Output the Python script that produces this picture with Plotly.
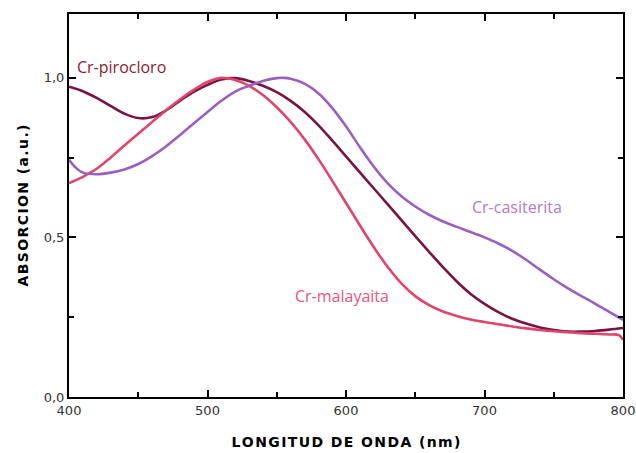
import plotly.graph_objects as go

# Absorption spectra (normalised) of three Cr-doped pigments
wl_pirocloro = [400, 410, 420, 430, 440, 450, 460, 470, 480, 490, 500, 510, 520, 530,
                540, 550, 560, 570, 580, 590, 600, 610, 620, 630, 640, 650, 660, 670,
                680, 690, 700, 710, 720, 730, 740, 750, 760, 770, 780, 790, 800]
abs_pirocloro = [0.972, 0.958, 0.937, 0.912, 0.888, 0.874, 0.877, 0.898, 0.928, 0.956,
                 0.978, 0.995, 0.999, 0.990, 0.975, 0.955, 0.928, 0.894, 0.852, 0.804,
                 0.754, 0.704, 0.654, 0.604, 0.554, 0.504, 0.455, 0.407, 0.362, 0.323,
                 0.292, 0.266, 0.245, 0.230, 0.218, 0.210, 0.205, 0.205, 0.207, 0.211,
                 0.216]

wl_malayaita = [400, 410, 420, 430, 440, 450, 460, 470, 480, 490, 500, 510, 520, 530,
                540, 550, 560, 570, 580, 590, 600, 610, 620, 630, 640, 650, 660, 670,
                680, 690, 700, 710, 720, 730, 740, 750, 760, 770, 780, 790, 797, 800]
abs_malayaita = [0.670, 0.690, 0.715, 0.750, 0.788, 0.825, 0.862, 0.898, 0.932, 0.962,
                 0.987, 1.000, 0.993, 0.975, 0.946, 0.908, 0.862, 0.808, 0.746, 0.678,
                 0.608, 0.538, 0.470, 0.408, 0.356, 0.316, 0.288, 0.268, 0.254, 0.243,
                 0.235, 0.228, 0.221, 0.215, 0.210, 0.206, 0.203, 0.200, 0.198, 0.196,
                 0.194, 0.179]

wl_casiterita = [400, 405, 410, 420, 430, 440, 450, 460, 470, 480, 490, 500, 510, 520,
                 530, 540, 550, 555, 560, 570, 580, 590, 600, 610, 620, 630, 640, 650,
                 660, 670, 680, 690, 700, 710, 720, 730, 740, 750, 760, 770, 780, 790, 800]
abs_casiterita = [0.743, 0.718, 0.703, 0.698, 0.703, 0.713, 0.730, 0.755, 0.785, 0.820,
                  0.857, 0.893, 0.928, 0.957, 0.975, 0.990, 0.999, 1.000, 0.997, 0.982,
                  0.952, 0.906, 0.848, 0.783, 0.722, 0.670, 0.629, 0.597, 0.571, 0.550,
                  0.533, 0.517, 0.500, 0.481, 0.458, 0.430, 0.399, 0.369, 0.341, 0.316,
                  0.292, 0.267, 0.242]

series = [
    ("Cr-pirocloro", wl_pirocloro, abs_pirocloro, "#7a1242"),
    ("Cr-malayaita", wl_malayaita, abs_malayaita, "#e0456a"),
    ("Cr-casiterita", wl_casiterita, abs_casiterita, "#9b5fbf"),
]

fig = go.Figure()
for name, x, y, color in series:
    fig.add_trace(go.Scatter(x=x, y=y, mode="lines", name=name,
                             line=dict(color=color, width=2.6, shape="spline", smoothing=1.0)))

# In-plot series labels
labels = [
    ("Cr-pirocloro", 404.3, 1.034, "#8c1c2c"),
    ("Cr-casiterita", 689.5, 0.596, "#b07cc8"),
    ("Cr-malayaita", 561.7, 0.317, "#e9557c"),
]
for text, x, y, color in labels:
    fig.add_annotation(x=x, y=y, text=text, showarrow=False, xanchor="left",
                       yanchor="middle", font=dict(family="Open Sans", size=16, color=color))

HS = "\u200a"  # hair space for tracking in the axis titles


def tracked(s):
    return HS.join(s)


axis_common = dict(showline=True, linecolor="black", linewidth=2, mirror="ticks",
                   ticks="inside", ticklen=7, tickwidth=1.5, tickcolor="black",
                   showgrid=False, zeroline=False, automargin=False,
                   tickfont=dict(family="DejaVu Sans", size=13, color="#333333"))

title_font = dict(family="DejaVu Sans", size=14, color="black", weight="bold")

fig.update_xaxes(range=[400, 800], dtick=100, tick0=400,
                 minor=dict(dtick=50, ticks="inside", ticklen=5, tickcolor="black", tickwidth=1.5),
                 title=dict(text=tracked("LONGITUD DE ONDA (nm)"), font=title_font, standoff=21),
                 **axis_common)
fig.update_yaxes(range=[0, 1.2], dtick=0.5, tick0=0, tickformat=".1f",
                 minor=dict(dtick=0.25, ticks="inside", ticklen=5, tickcolor="black", tickwidth=1.5),
                 title=dict(text=tracked("ABSORCION (a.u.)"), font=title_font, standoff=12),
                 **axis_common)

fig.update_layout(width=636, height=453, margin=dict(l=69, r=13, t=14, b=56),
                  paper_bgcolor="white", plot_bgcolor="white", showlegend=False,
                  separators=",.")

fig.write_html("out.html")
